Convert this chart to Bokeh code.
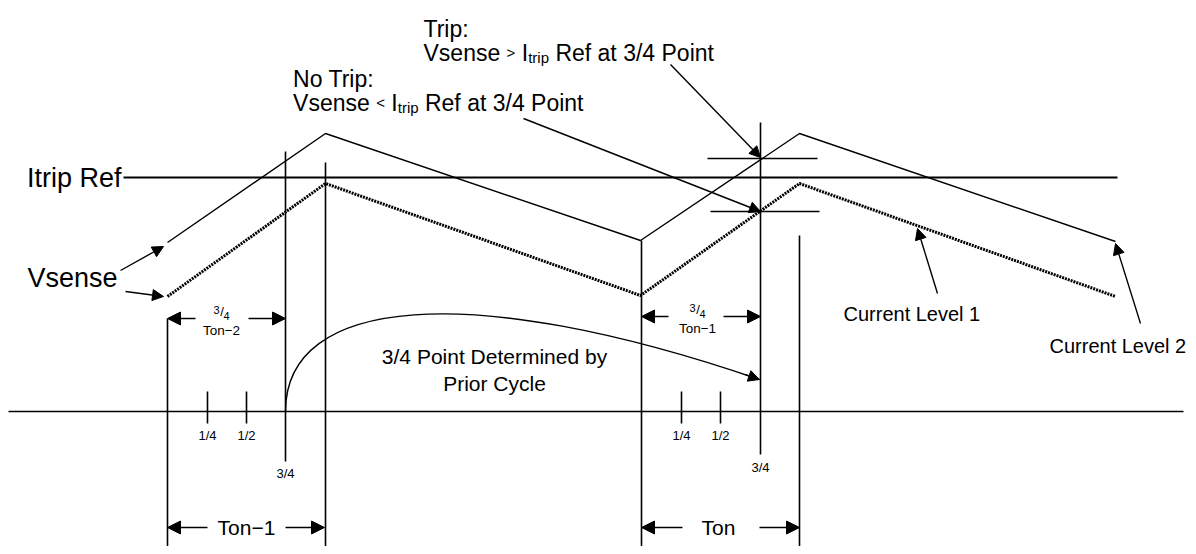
from bokeh.plotting import figure
from bokeh.models import Range1d, Arrow, NormalHead
from bokeh.core.properties import value
from bokeh.embed import file_html
from bokeh.resources import INLINE

FONT = "Liberation Sans"

# ---- diagram data (screen-like units, y grows downward) ----
cycle_x = [167, 325, 640, 799, 1115]
level2_y = [242, 133, 240, 133, 241]      # Current Level 2 (solid)
level1_y = [296, 183, 295, 183, 296]      # Current Level 1 (dotted)
itrip_ref_y = 177
itrip_ref_x = [123, 1117]
time_axis_y = 411
time_axis_x = [8, 1183]

marker_x = [167, 285, 325, 641, 760, 799]
marker_top = [318, 151, 162, 240, 122, 235]
marker_bottom = [548, 461, 548, 548, 454, 548]

quarter_x = [207, 246, 681, 720]
quarter_labels = ["1/4", "1/2", "1/4", "1/2"]
three_quarter_x = [285, 760]
three_quarter_label_y = [473, 467]

trip_tick_y = [158, 211]
trip_tick_x0 = [707, 710]
trip_tick_x1 = [817, 819]

# brackets: (x_left, x_right, y, text_center, gap_left, gap_right, label)
bracket_small = [(167, 285, 318, 221, 195, 248, "Ton\u22122"),
                 (641, 760, 316, 697, 668, 723, "Ton\u22121")]
bracket_big = [(167, 324, 527, 246, 207, 285, "Ton\u22121"),
               (641, 799, 527, 718, 682, 759, "Ton")]

# pointer arrows: (x_start, y_start, x_end, y_end)
pointers = [(670, 64, 760, 157),     # Trip
            (523, 118, 760, 211),    # No Trip
            (120, 270, 163, 246),    # Vsense -> level 2
            (125, 291, 163, 296),    # Vsense -> level 1
            (937, 293, 917, 228),    # Current Level 1
            (1140, 323, 1115, 243)]  # Current Level 2

# ---- figure ----
p = figure(width=1188, height=546, x_range=Range1d(0, 1188), y_range=Range1d(546, 0),
           output_backend="svg", toolbar_location=None, min_border=0,
           x_axis_location=None, y_axis_location=None)
p.grid.visible = False
p.outline_line_color = None
p.background_fill_color = "white"

K = "black"

# waveforms
p.line(cycle_x, level2_y, line_color=K, line_width=1.4)
p.line(cycle_x, level1_y, line_color=K, line_width=3, line_dash="2 1")
# Itrip ref
p.line(itrip_ref_x, [itrip_ref_y, itrip_ref_y], line_color=K, line_width=2.2)
# time axis
p.line(time_axis_x, [time_axis_y, time_axis_y], line_color=K, line_width=1.6)
# vertical markers
p.segment(x0=marker_x, y0=marker_top, x1=marker_x, y1=marker_bottom, line_color=K, line_width=1.6)
# quarter ticks
p.segment(x0=quarter_x, y0=[391] * 4, x1=quarter_x, y1=[423] * 4, line_color=K, line_width=1.6)
# trip ticks
p.segment(x0=trip_tick_x0, y0=trip_tick_y, x1=trip_tick_x1, y1=trip_tick_y, line_color=K, line_width=1.4)


def txt(x, y, s, size, align="left", baseline="middle", font=FONT):
    p.text(x=[x], y=[y], text=[s], text_font=value(font), text_font_size=value(f"{size}px"),
           text_align=align, text_baseline=baseline, text_color=K)


def arrow(xs, ys, xe, ye, size=11, lw=1.4):
    p.add_layout(Arrow(end=NormalHead(size=size, fill_color=K, line_color=K, line_width=1),
                       x_start=xs, y_start=ys, x_end=xe, y_end=ye, line_color=K, line_width=lw))


for (xl, xr, y, tc, gl, gr, lab) in bracket_small:
    arrow(gl, y, xl, y, size=13)
    arrow(gr, y, xr, y, size=13)
    # stacked fraction 3/4
    txt(tc - 5, y - 9, "3", 11, align="center")
    txt(tc + 0.5, y - 7, "/", 13, align="center")
    txt(tc + 5, y - 3, "4", 11, align="center")
    txt(tc, y + 12, lab, 13.5, align="center")

for (xl, xr, y, tc, gl, gr, lab) in bracket_big:
    arrow(gl, y, xl, y, size=13)
    arrow(gr, y, xr, y, size=13)
    txt(tc, y, lab, 21, align="center")

for (xs, ys, xe, ye) in pointers:
    arrow(xs, ys, xe, ye, size=11)

# curved "determined by prior cycle" arrow
p.bezier(x0=[285], y0=[411], x1=[759], y1=[379], cx0=[285], cy0=[295], cx1=[470], cy1=[280],
         line_color=K, line_width=1.4)
arrow(745, 374.2, 759, 379, size=11)

# tick labels
for x, s in zip(quarter_x, quarter_labels):
    txt(x, 435, s, 13, align="center")
for x, y in zip(three_quarter_x, three_quarter_label_y):
    txt(x, y, "3/4", 13, align="center")

# big labels
txt(121, 177, "Itrip Ref", 27, align="right")
txt(117, 277, "Vsense", 27, align="right")
txt(843, 313, "Current Level 1", 20)
txt(1049, 345, "Current Level 2", 20)
txt(494, 356, "3/4 Point Determined by", 21, align="center")
txt(494, 383, "Prior Cycle", 21, align="center")

# composite lines with subscript
W = {" ": 278, "V": 667, "s": 500, "e": 556, "n": 556, "<": 584, ">": 584, "I": 278, "t": 278,
     "r": 333, "i": 222, "p": 556, "R": 722, "f": 278, "a": 556, "3": 556, "/": 278, "4": 556,
     "P": 667, "o": 556}


def tw(s, size):
    return sum(W.get(c, 556) for c in s) / 1000 * size


def pieces_for(op):
    return [("Vsense", 23, 0), (" ", 23, 0), (op, 15, 0), (" ", 23, 0), ("I", 23, 0),
            ("trip", 15, 5), (" ", 23, 0), ("Ref at 3/4 Point", 23, 0)]


def runs(x0, base, op):
    x = x0
    for s, size, dy in pieces_for(op):
        if s.strip():
            txt(x, base + dy, s, size, baseline="alphabetic")
        x += tw(s, size)
    return x


def total_width(op):
    return sum(tw(s, size) for s, size, dy in pieces_for(op))


trip_x0 = 423
txt(trip_x0, 28, "Trip:", 23, baseline="alphabetic")
runs(trip_x0, 52, ">")

notrip_x0 = 583 - total_width("<")
txt(notrip_x0, 78, "No Trip:", 23, baseline="alphabetic")
runs(notrip_x0, 102, "<")

open("out.html", "w").write(file_html(p, INLINE))
